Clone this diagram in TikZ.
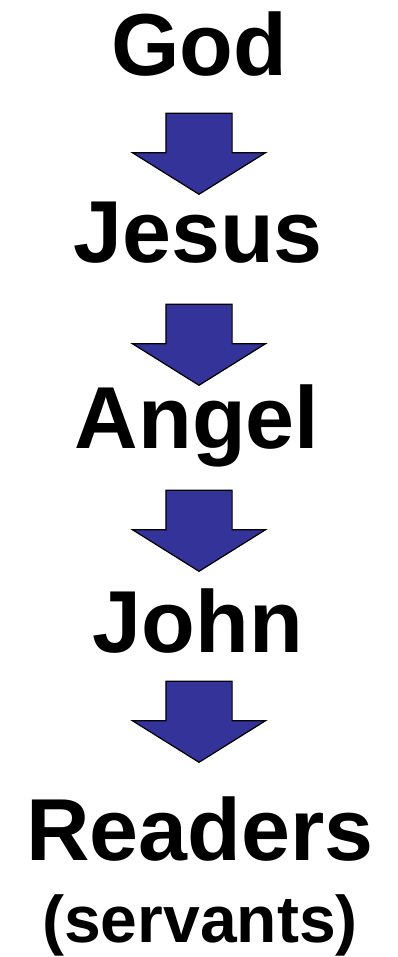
\documentclass[tikz,border=0pt]{standalone}
\usepackage{fontspec}
\setmainfont{Liberation Sans}
\usetikzlibrary{shapes.arrows}
\definecolor{arrowblue}{RGB}{51,51,153}

\begin{document}
\begin{tikzpicture}[x=1pt,y=-1pt,
  every node/.style={inner sep=0pt},
  wordnode/.style={anchor=base,font=\fontsize{88}{88}\selectfont\bfseries},
  downarrow/.style={single arrow,draw=black,line width=1.2pt,fill=arrowblue,
    rotate=-90,anchor=tip,inner xsep=0pt,inner ysep=32.5pt,minimum height=81pt,
    single arrow head extend=33.5pt,single arrow tip angle=116}]
\useasboundingbox (0,0) rectangle (397,957);
\node[wordnode] (god) at (199,76) {God};
\node[wordnode] (jesus) at (198,263) {Jesus};
\node[wordnode] (angel) at (197,448) {Angel};
\node[wordnode] (john) at (198,652) {John};
\node[wordnode] (readers) at (200,860) {Readers};
\node[wordnode,font=\fontsize{66}{66}\selectfont\bfseries] (servants) at (200,942) {(servants)};
% block arrows between the names, placed by their tips
\node[downarrow] (a1) at (199,195) {};
\node[downarrow] (a2) at (199,386) {};
\node[downarrow] (a3) at (199,572) {};
\node[downarrow] (a4) at (199,763) {};
\end{tikzpicture}
\end{document}
